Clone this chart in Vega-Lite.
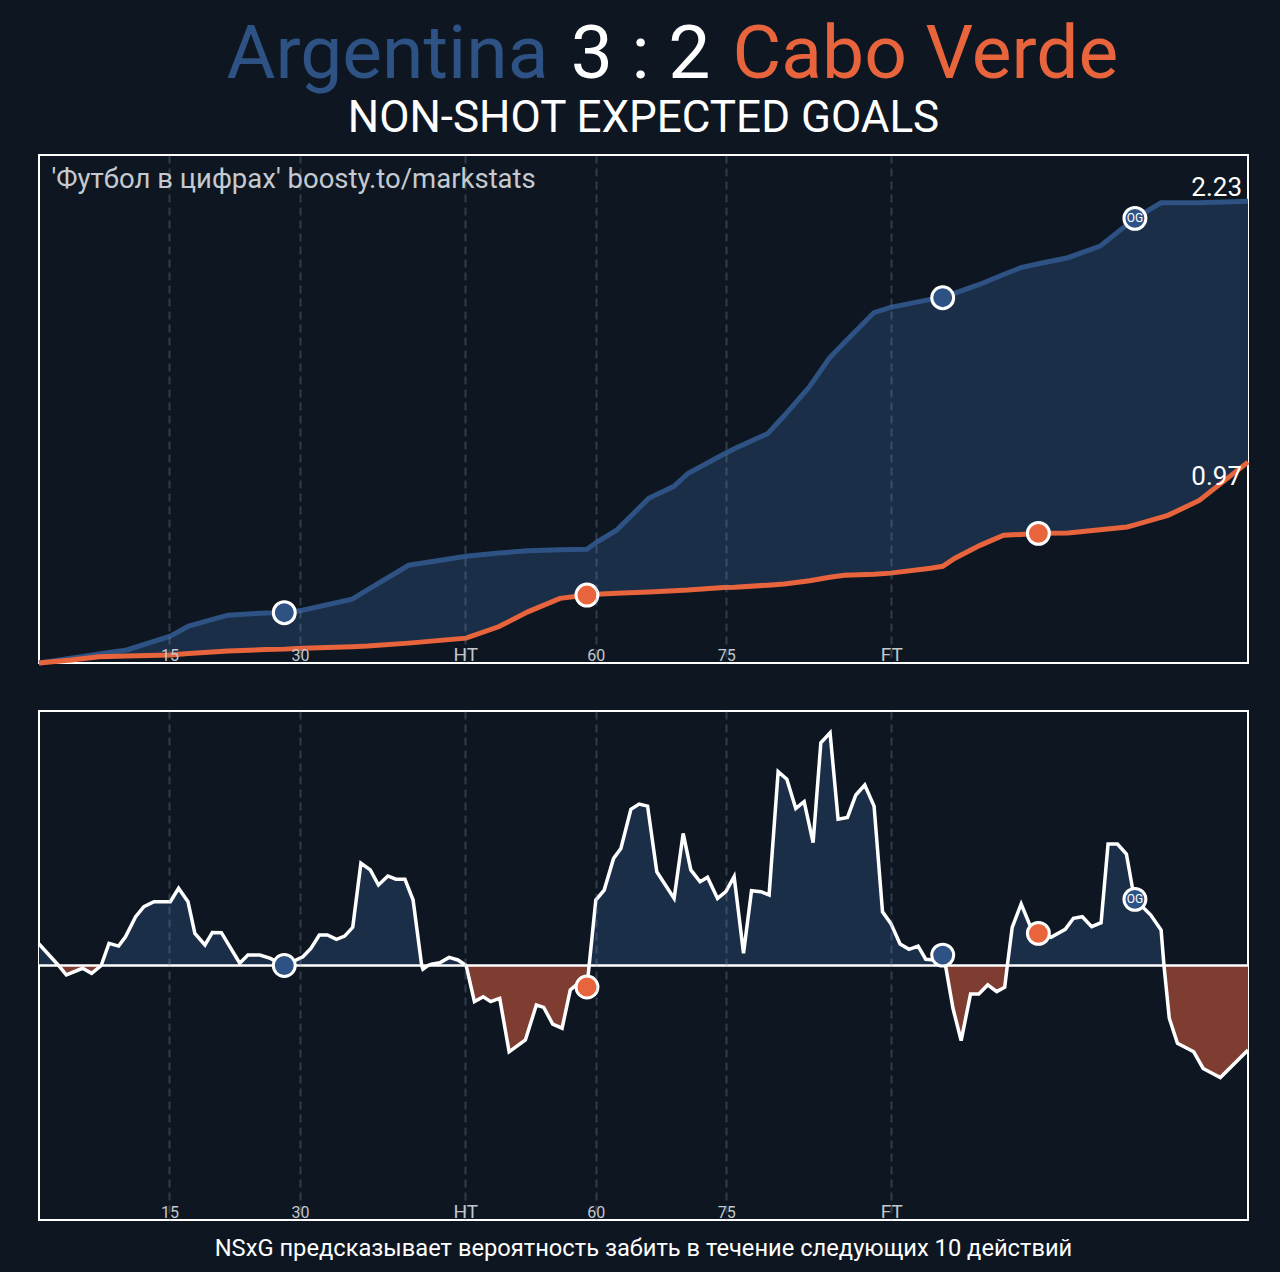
{
  "$schema": "https://vega.github.io/schema/vega-lite/v6.json",
  "background": "#0e1721",
  "padding": {"left": 28, "top": 0, "right": 33, "bottom": 10},
  "bounds": "flush",
  "spacing": 48,
  "config": {
    "font": "Roboto",
    "view": {"stroke": "#ffffff", "strokeWidth": 2},
    "axisY": {"disable": true}
  },
  "datasets": {
    "header": [
      {"part": "Argentina"},
      {"part": "3 : 2"},
      {"part": "Cabo Verde"}
    ],
    "cum": [
      {"t": 0.0, "arg": 0, "cv": 0},
      {"t": 3.7, "arg": 0.023, "cv": 0.014},
      {"t": 6.9, "arg": 0.043, "cv": 0.030},
      {"t": 10.1, "arg": 0.063, "cv": 0.034},
      {"t": 15.1, "arg": 0.130, "cv": 0.039},
      {"t": 17.2, "arg": 0.178, "cv": 0.046},
      {"t": 21.7, "arg": 0.231, "cv": 0.058},
      {"t": 26.1, "arg": 0.242, "cv": 0.065},
      {"t": 28.2, "arg": 0.243, "cv": 0.067},
      {"t": 30.3, "arg": 0.255, "cv": 0.071},
      {"t": 36.0, "arg": 0.308, "cv": 0.079},
      {"t": 37.8, "arg": 0.354, "cv": 0.082},
      {"t": 42.5, "arg": 0.472, "cv": 0.096},
      {"t": 49.1, "arg": 0.515, "cv": 0.120},
      {"t": 52.9, "arg": 0.531, "cv": 0.176},
      {"t": 56.2, "arg": 0.542, "cv": 0.247},
      {"t": 59.9, "arg": 0.547, "cv": 0.312},
      {"t": 63.0, "arg": 0.549, "cv": 0.328},
      {"t": 64.1, "arg": 0.583, "cv": 0.332},
      {"t": 66.4, "arg": 0.641, "cv": 0.337},
      {"t": 70.1, "arg": 0.795, "cv": 0.343},
      {"t": 73.0, "arg": 0.853, "cv": 0.349},
      {"t": 74.6, "arg": 0.915, "cv": 0.352},
      {"t": 78.7, "arg": 1.008, "cv": 0.365},
      {"t": 80.0, "arg": 1.036, "cv": 0.366},
      {"t": 83.8, "arg": 1.108, "cv": 0.376},
      {"t": 85.7, "arg": 1.195, "cv": 0.381},
      {"t": 88.6, "arg": 1.335, "cv": 0.397},
      {"t": 90.9, "arg": 1.474, "cv": 0.414},
      {"t": 92.6, "arg": 1.548, "cv": 0.424},
      {"t": 96.0, "arg": 1.692, "cv": 0.429},
      {"t": 97.9, "arg": 1.717, "cv": 0.434},
      {"t": 102.5, "arg": 1.756, "cv": 0.458},
      {"t": 103.9, "arg": 1.764, "cv": 0.467},
      {"t": 105.3, "arg": 1.786, "cv": 0.506},
      {"t": 108.2, "arg": 1.829, "cv": 0.568},
      {"t": 110.9, "arg": 1.876, "cv": 0.617},
      {"t": 112.9, "arg": 1.909, "cv": 0.621},
      {"t": 114.9, "arg": 1.928, "cv": 0.626},
      {"t": 118.3, "arg": 1.957, "cv": 0.628},
      {"t": 122.0, "arg": 2.013, "cv": 0.643},
      {"t": 125.1, "arg": 2.117, "cv": 0.657},
      {"t": 126.0, "arg": 2.147, "cv": 0.667},
      {"t": 129.0, "arg": 2.222, "cv": 0.703},
      {"t": 129.8, "arg": 2.222, "cv": 0.713},
      {"t": 133.4, "arg": 2.222, "cv": 0.785},
      {"t": 139.0, "arg": 2.230, "cv": 0.970}
    ],
    "nsxg": [
      {"t": 0.0, "v": 0.093},
      {"t": 2.25, "v": 0},
      {"t": 2.67, "v": -0.019},
      {"t": 3.14, "v": -0.041},
      {"t": 5.01, "v": -0.012},
      {"t": 6.05, "v": -0.034},
      {"t": 7.15, "v": 0},
      {"t": 8.05, "v": 0.096},
      {"t": 9.15, "v": 0.084},
      {"t": 9.94, "v": 0.124},
      {"t": 11.11, "v": 0.211},
      {"t": 12.06, "v": 0.254},
      {"t": 13.22, "v": 0.276},
      {"t": 15.10, "v": 0.276},
      {"t": 16.05, "v": 0.334},
      {"t": 17.13, "v": 0.276},
      {"t": 17.92, "v": 0.139},
      {"t": 19.08, "v": 0.089},
      {"t": 19.93, "v": 0.143},
      {"t": 20.97, "v": 0.142},
      {"t": 23.08, "v": 0.010},
      {"t": 24.02, "v": 0.045},
      {"t": 25.40, "v": 0.045},
      {"t": 26.60, "v": 0.031},
      {"t": 28.2, "v": 0},
      {"t": 30.34, "v": 0.038},
      {"t": 31.26, "v": 0.074},
      {"t": 32.23, "v": 0.132},
      {"t": 33.16, "v": 0.132},
      {"t": 34.20, "v": 0.113},
      {"t": 35.14, "v": 0.127},
      {"t": 36.07, "v": 0.165},
      {"t": 37.01, "v": 0.442},
      {"t": 38.09, "v": 0.413},
      {"t": 39.03, "v": 0.348},
      {"t": 40.11, "v": 0.387},
      {"t": 41.03, "v": 0.373},
      {"t": 42.07, "v": 0.373},
      {"t": 43.01, "v": 0.283},
      {"t": 44.00, "v": 0},
      {"t": 44.14, "v": -0.016},
      {"t": 44.71, "v": 0},
      {"t": 45.13, "v": 0.006},
      {"t": 46.07, "v": 0.012},
      {"t": 47.15, "v": 0.035},
      {"t": 48.16, "v": 0.024},
      {"t": 49.11, "v": 0},
      {"t": 50.06, "v": -0.156},
      {"t": 51.08, "v": -0.135},
      {"t": 51.93, "v": -0.156},
      {"t": 52.97, "v": -0.142},
      {"t": 54.05, "v": -0.373},
      {"t": 55.92, "v": -0.322},
      {"t": 57.18, "v": -0.171},
      {"t": 58.03, "v": -0.181},
      {"t": 59.06, "v": -0.253},
      {"t": 60.14, "v": -0.271},
      {"t": 61.08, "v": -0.106},
      {"t": 61.78, "v": -0.084},
      {"t": 63.0, "v": -0.093},
      {"t": 63.25, "v": 0},
      {"t": 64.02, "v": 0.283},
      {"t": 64.98, "v": 0.326},
      {"t": 66.06, "v": 0.463},
      {"t": 66.90, "v": 0.506},
      {"t": 68.05, "v": 0.675},
      {"t": 69.00, "v": 0.698},
      {"t": 69.97, "v": 0.689},
      {"t": 71.03, "v": 0.405},
      {"t": 73.02, "v": 0.290},
      {"t": 74.06, "v": 0.571},
      {"t": 74.94, "v": 0.413},
      {"t": 76.01, "v": 0.362},
      {"t": 76.86, "v": 0.381},
      {"t": 78.01, "v": 0.290},
      {"t": 78.97, "v": 0.319},
      {"t": 79.92, "v": 0.384},
      {"t": 81.00, "v": 0.053},
      {"t": 81.92, "v": 0.323},
      {"t": 82.99, "v": 0.319},
      {"t": 83.94, "v": 0.305},
      {"t": 84.98, "v": 0.838},
      {"t": 85.98, "v": 0.805},
      {"t": 87.01, "v": 0.679},
      {"t": 87.97, "v": 0.708},
      {"t": 89.00, "v": 0.531},
      {"t": 89.89, "v": 0.963},
      {"t": 90.95, "v": 1.006},
      {"t": 91.87, "v": 0.632},
      {"t": 92.95, "v": 0.640},
      {"t": 93.91, "v": 0.737},
      {"t": 94.94, "v": 0.780},
      {"t": 96.01, "v": 0.689},
      {"t": 96.98, "v": 0.232},
      {"t": 97.93, "v": 0.182},
      {"t": 99.00, "v": 0.093},
      {"t": 100.03, "v": 0.070},
      {"t": 101.07, "v": 0.084},
      {"t": 101.95, "v": 0.027},
      {"t": 102.91, "v": 0.024},
      {"t": 103.9, "v": 0.045},
      {"t": 104.22, "v": 0},
      {"t": 105.08, "v": -0.185},
      {"t": 106.02, "v": -0.325},
      {"t": 107.10, "v": -0.123},
      {"t": 108.05, "v": -0.123},
      {"t": 109.08, "v": -0.084},
      {"t": 110.11, "v": -0.113},
      {"t": 111.03, "v": -0.094},
      {"t": 111.33, "v": 0},
      {"t": 111.89, "v": 0.165},
      {"t": 112.92, "v": 0.266},
      {"t": 114.00, "v": 0.168},
      {"t": 114.9, "v": 0.139},
      {"t": 116.34, "v": 0.122},
      {"t": 117.99, "v": 0.156},
      {"t": 118.93, "v": 0.204},
      {"t": 119.95, "v": 0.211},
      {"t": 121.03, "v": 0.168},
      {"t": 122.11, "v": 0.185},
      {"t": 122.91, "v": 0.525},
      {"t": 123.99, "v": 0.525},
      {"t": 125.02, "v": 0.482},
      {"t": 125.72, "v": 0.334},
      {"t": 126.0, "v": 0.286},
      {"t": 127.82, "v": 0.218},
      {"t": 129.01, "v": 0.153},
      {"t": 129.34, "v": 0},
      {"t": 129.95, "v": -0.228},
      {"t": 130.89, "v": -0.336},
      {"t": 132.76, "v": -0.373},
      {"t": 133.84, "v": -0.445},
      {"t": 135.82, "v": -0.484},
      {"t": 139.0, "v": -0.365}
    ],
    "goals": [
      {"t": 28.2, "team": "Argentina", "cum": 0.243, "nsxg": 0, "og": ""},
      {"t": 63.0, "team": "Cabo Verde", "cum": 0.328, "nsxg": -0.093, "og": ""},
      {"t": 103.9, "team": "Argentina", "cum": 1.764, "nsxg": 0.045, "og": ""},
      {"t": 114.9, "team": "Cabo Verde", "cum": 0.626, "nsxg": 0.139, "og": ""},
      {"t": 126.0, "team": "Argentina", "cum": 2.147, "nsxg": 0.286, "og": "OG"}
    ],
    "ends": [
      {"t": 139.0, "team": "Argentina", "val": 2.23, "label": "2.23"},
      {"t": 139.0, "team": "Cabo Verde", "val": 0.97, "label": "0.97"}
    ],
    "zero": [
      {"base": 0}
    ]
  },
  "vconcat": [
    {
      "width": 1203,
      "height": 107,
      "view": {"stroke": null},
      "data": {"name": "header"},
      "layer": [
        {
          "transform": [{"filter": "datum.part == 'Argentina'"}],
          "mark": {"type": "text", "align": "right", "baseline": "alphabetic", "dx": 208.75, "dy": 24.5, "fontSize": 75, "color": "#2d5283"},
          "encoding": {
            "x": {"field": "part", "type": "nominal", "scale": {"type": "point", "domain": ["Argentina", "3 : 2", "Cabo Verde"], "padding": 1}, "axis": null},
            "text": {"field": "part"}
          }
        },
        {
          "transform": [{"filter": "datum.part == '3 : 2'"}],
          "mark": {"type": "text", "align": "center", "baseline": "alphabetic", "dy": 24.5, "fontSize": 75, "color": "#ffffff"},
          "encoding": {
            "x": {"field": "part", "type": "nominal", "axis": null},
            "text": {"field": "part"}
          }
        },
        {
          "transform": [{"filter": "datum.part == 'Cabo Verde'"}],
          "mark": {"type": "text", "align": "left", "baseline": "alphabetic", "dx": -208.75, "dy": 24.5, "fontSize": 75, "color": "#e8643c"},
          "encoding": {
            "x": {"field": "part", "type": "nominal", "axis": null},
            "text": {"field": "part"}
          }
        }
      ]
    },
    {
      "width": 1209,
      "height": 508,
      "title": {
        "text": "NON-SHOT EXPECTED GOALS",
        "fontSize": 44,
        "fontWeight": "normal",
        "color": "#ffffff",
        "anchor": "middle",
        "offset": 14
      },
      "layer": [
        {
          "data": {"name": "cum"},
          "mark": {"type": "area", "color": "#1b2e48"},
          "encoding": {
            "x": {
              "field": "t",
              "type": "quantitative",
              "scale": {"domain": [0, 139], "nice": false, "zero": false},
              "axis": {
                "values": [15, 30, 49, 64, 79, 98],
                "labelExpr": "datum.value == 49 ? 'HT' : datum.value == 98 ? 'FT' : datum.value == 64 ? '60' : datum.value == 79 ? '75' : datum.label",
                "grid": true,
                "gridColor": "#8696ab",
                "gridOpacity": 0.3,
                "gridDash": [8, 5],
                "gridWidth": 2,
                "domain": false,
                "ticks": false,
                "tickSize": 0,
                "labelPadding": -3,
                "labelBaseline": "alphabetic",
                "labelColor": "#c2c7cd",
                "labelFontSize": {"condition": {"test": "datum.value == 49 || datum.value == 98", "value": 19}, "value": 16},
                "labelFlush": false,
                "zindex": 1,
                "title": "'Футбол в цифрах' boosty.to/markstats",
                "titleX": 12,
                "titleY": -476,
                "titleAlign": "left",
                "titleAngle": 0,
                "titleBaseline": "alphabetic",
                "titleFontSize": 27.5,
                "titleFontWeight": "normal",
                "titleColor": "#c5cad0"
              }
            },
            "y": {"field": "arg", "type": "quantitative", "scale": {"domain": [0, 2.453], "nice": false}},
            "y2": {"field": "cv"}
          }
        },
        {
          "data": {"name": "cum"},
          "mark": {"type": "line", "color": "#2d5283", "strokeWidth": 5},
          "encoding": {
            "x": {"field": "t", "type": "quantitative"},
            "y": {"field": "arg", "type": "quantitative"}
          }
        },
        {
          "data": {"name": "cum"},
          "mark": {"type": "line", "color": "#e8643c", "strokeWidth": 5},
          "encoding": {
            "x": {"field": "t", "type": "quantitative"},
            "y": {"field": "cv", "type": "quantitative"}
          }
        },
        {
          "data": {"name": "goals"},
          "transform": [{"filter": "datum.team == 'Argentina'"}],
          "mark": {"type": "circle", "size": 480, "opacity": 1, "fill": "#2d5283", "stroke": "#ffffff", "strokeWidth": 3},
          "encoding": {
            "x": {"field": "t", "type": "quantitative"},
            "y": {"field": "cum", "type": "quantitative"}
          }
        },
        {
          "data": {"name": "goals"},
          "transform": [{"filter": "datum.team == 'Cabo Verde'"}],
          "mark": {"type": "circle", "size": 480, "opacity": 1, "fill": "#e8643c", "stroke": "#ffffff", "strokeWidth": 3},
          "encoding": {
            "x": {"field": "t", "type": "quantitative"},
            "y": {"field": "cum", "type": "quantitative"}
          }
        },
        {
          "data": {"name": "goals"},
          "transform": [{"filter": "datum.og == 'OG'"}],
          "mark": {"type": "text", "fontSize": 12, "color": "#ffffff", "baseline": "middle", "align": "center"},
          "encoding": {
            "x": {"field": "t", "type": "quantitative"},
            "y": {"field": "cum", "type": "quantitative"},
            "text": {"field": "og"}
          }
        },
        {
          "data": {"name": "ends"},
          "transform": [{"filter": "datum.team == 'Argentina'"}],
          "mark": {"type": "text", "fontSize": 26, "color": "#ffffff", "align": "right", "baseline": "alphabetic", "dx": -6, "dy": -5},
          "encoding": {
            "x": {"field": "t", "type": "quantitative"},
            "y": {"field": "val", "type": "quantitative"},
            "text": {"field": "label"}
          }
        },
        {
          "data": {"name": "ends"},
          "transform": [{"filter": "datum.team == 'Cabo Verde'"}],
          "mark": {"type": "text", "fontSize": 26, "color": "#ffffff", "align": "right", "baseline": "alphabetic", "dx": -6, "dy": 23},
          "encoding": {
            "x": {"field": "t", "type": "quantitative"},
            "y": {"field": "val", "type": "quantitative"},
            "text": {"field": "label"}
          }
        }
      ]
    },
    {
      "width": 1209,
      "height": 509,
      "title": {
        "text": "NSxG предсказывает вероятность забить в течение следующих 10 действий",
        "orient": "bottom",
        "fontSize": 23.7,
        "fontWeight": "normal",
        "color": "#ffffff",
        "anchor": "middle",
        "offset": 16
      },
      "layer": [
        {
          "data": {"name": "nsxg"},
          "transform": [{"filter": "datum.v >= 0"}],
          "mark": {"type": "area", "color": "#1b2e48"},
          "encoding": {
            "x": {
              "field": "t",
              "type": "quantitative",
              "scale": {"domain": [0, 139], "nice": false, "zero": false},
              "axis": {
                "values": [15, 30, 49, 64, 79, 98],
                "labelExpr": "datum.value == 49 ? 'HT' : datum.value == 98 ? 'FT' : datum.value == 64 ? '60' : datum.value == 79 ? '75' : datum.label",
                "title": null,
                "grid": true,
                "gridColor": "#8696ab",
                "gridOpacity": 0.3,
                "gridDash": [8, 5],
                "gridWidth": 2,
                "domain": false,
                "ticks": false,
                "tickSize": 0,
                "labelPadding": -3,
                "labelBaseline": "alphabetic",
                "labelColor": "#c2c7cd",
                "labelFontSize": {"condition": {"test": "datum.value == 49 || datum.value == 98", "value": 19}, "value": 16},
                "labelFlush": false,
                "zindex": 1
              }
            },
            "y": {"field": "v", "type": "quantitative", "scale": {"domain": [-1.1, 1.1], "nice": false}}
          }
        },
        {
          "data": {"name": "nsxg"},
          "transform": [{"filter": "datum.v <= 0"}],
          "mark": {"type": "area", "color": "#7e3d30"},
          "encoding": {
            "x": {"field": "t", "type": "quantitative"},
            "y": {"field": "v", "type": "quantitative"}
          }
        },
        {
          "data": {"name": "zero"},
          "mark": {"type": "rule", "color": "#ffffff", "strokeWidth": 2.5},
          "encoding": {
            "y": {"field": "base", "type": "quantitative"}
          }
        },
        {
          "data": {"name": "nsxg"},
          "mark": {"type": "line", "color": "#ffffff", "strokeWidth": 3.5},
          "encoding": {
            "x": {"field": "t", "type": "quantitative"},
            "y": {"field": "v", "type": "quantitative"}
          }
        },
        {
          "data": {"name": "goals"},
          "transform": [{"filter": "datum.team == 'Argentina'"}],
          "mark": {"type": "circle", "size": 480, "opacity": 1, "fill": "#2d5283", "stroke": "#ffffff", "strokeWidth": 3},
          "encoding": {
            "x": {"field": "t", "type": "quantitative"},
            "y": {"field": "nsxg", "type": "quantitative"}
          }
        },
        {
          "data": {"name": "goals"},
          "transform": [{"filter": "datum.team == 'Cabo Verde'"}],
          "mark": {"type": "circle", "size": 480, "opacity": 1, "fill": "#e8643c", "stroke": "#ffffff", "strokeWidth": 3},
          "encoding": {
            "x": {"field": "t", "type": "quantitative"},
            "y": {"field": "nsxg", "type": "quantitative"}
          }
        },
        {
          "data": {"name": "goals"},
          "transform": [{"filter": "datum.og == 'OG'"}],
          "mark": {"type": "text", "fontSize": 12, "color": "#ffffff", "baseline": "middle", "align": "center"},
          "encoding": {
            "x": {"field": "t", "type": "quantitative"},
            "y": {"field": "nsxg", "type": "quantitative"},
            "text": {"field": "og"}
          }
        }
      ]
    }
  ]
}
